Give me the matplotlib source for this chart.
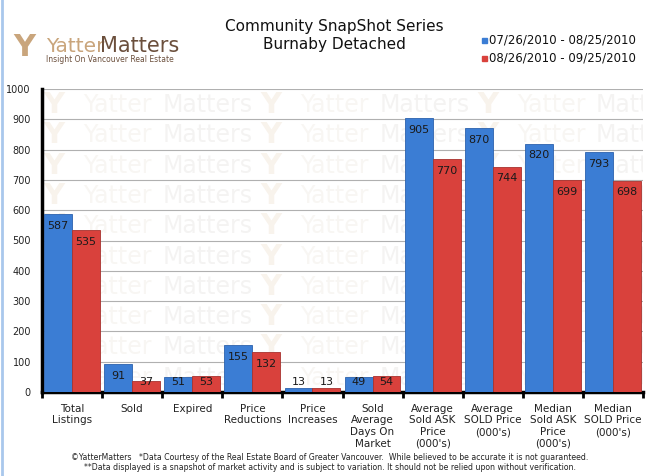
import matplotlib
matplotlib.use("Agg")
import matplotlib.pyplot as plt
import numpy as np

categories = ["Total\nListings", "Sold", "Expired", "Price\nReductions", "Price\nIncreases",
              "Sold\nAverage\nDays On\nMarket", "Average\nSold ASK\nPrice\n(000's)",
              "Average\nSOLD Price\n(000's)", "Median\nSold ASK\nPrice\n(000's)",
              "Median\nSOLD Price\n(000's)"]
period1 = [587, 91, 51, 155, 13, 49, 905, 870, 820, 793]
period2 = [535, 37, 53, 132, 13, 54, 770, 744, 699, 698]
label1 = "07/26/2010 - 08/25/2010"
label2 = "08/26/2010 - 09/25/2010"
y_ticks = [0, 100, 200, 300, 400, 500, 600, 700, 800, 900, 1000]

blue = "#3b7dd4"
red = "#d9413c"

fig = plt.figure(figsize=(6.55, 4.76), dpi=100)
ax = fig.add_axes([42 / 655, 1 - 392 / 476, 601 / 655, 303 / 476])

# faint watermark behind the bars
for row in range(10):
    for col in range(3):
        x0 = 0.002 + col * 0.361
        y0 = 0.947 - row * 0.1
        ax.text(x0, y0, "Y", transform=ax.transAxes, fontsize=21, color="#f8f3ec",
                fontweight="bold", va="center", ha="left", zorder=0, clip_on=True)
        ax.text(x0 + 0.067, y0, "Yatter", transform=ax.transAxes, fontsize=17,
                color="#f8f6f3", va="center", ha="left", zorder=0, clip_on=True)
        ax.text(x0 + 0.198, y0, "Matters", transform=ax.transAxes, fontsize=17,
                color="#f4f3f2", va="center", ha="left", zorder=0, clip_on=True)

x = np.arange(len(categories))
w = 0.465
b1 = ax.bar(x - w / 2, period1, w, color=blue, edgecolor="#2c62ad", linewidth=0.6, zorder=3)
b2 = ax.bar(x + w / 2, period2, w, color=red, edgecolor="#a8322e", linewidth=0.6, zorder=3)

# labels sit just inside the bar top, but never lower than just above the base
for bars, vals in ((b1, period1), (b2, period2)):
    for rect, v in zip(bars, vals):
        cx = rect.get_x() + rect.get_width() / 2
        ax.text(cx, max(v - 39, 33), str(v), ha="center", va="center",
                fontsize=8, color="#1a1a1a", zorder=4)

ax.set_xlim(-0.5, len(categories) - 0.5)
ax.set_ylim(0, 1000)
ax.set_yticks(y_ticks)
ax.set_yticklabels([str(t) for t in y_ticks], fontsize=7, color="#222222")
ax.yaxis.grid(True, color="#b0b0b0", linewidth=0.8, zorder=1)
ax.set_axisbelow(True)
ax.tick_params(axis="y", length=0, pad=8)

ax.set_xticks(x)
ax.set_xticklabels(categories, fontsize=7.5, color="#222222", linespacing=1.2, va="top")
ax.tick_params(axis="x", length=0, pad=8.5)
ax.set_xticks(np.arange(-0.5, len(categories)), minor=True)
ax.tick_params(axis="x", which="minor", length=4, width=2, color="black", direction="out")

for s in ("top", "right"):
    ax.spines[s].set_visible(False)
ax.spines["left"].set_linewidth(2.5)
ax.spines["bottom"].set_linewidth(2.5)

# header
fig.text(334 / 655, 1 - 27 / 476, "Community SnapShot Series", ha="center", va="center",
         fontsize=11, color="#111111")
fig.text(334 / 655, 1 - 45 / 476, "Burnaby Detached", ha="center", va="center",
         fontsize=11, color="#111111")

# logo
fig.text(13 / 655, 1 - 47 / 476, "Y", ha="left", va="center", fontsize=22,
         fontweight="bold", color="#c9a57c")
fig.text(46 / 655, 1 - 46 / 476, "Yatter", ha="left", va="center", fontsize=14.5,
         color="#c9a57c")
fig.text(100 / 655, 1 - 46 / 476, "Matters", ha="left", va="center", fontsize=15,
         color="#6b4f3c")
fig.text(46 / 655, 1 - 60 / 476, "Insight On Vancouver Real Estate", ha="left", va="center",
         fontsize=5.5, color="#6b4f3c")

# legend
fig.patches.append(plt.Rectangle((482 / 655, 1 - 43 / 476), 5 / 655, 5 / 476,
                                 transform=fig.transFigure, color=blue))
fig.patches.append(plt.Rectangle((482 / 655, 1 - 61 / 476), 5 / 655, 5 / 476,
                                 transform=fig.transFigure, color=red))
fig.text(489 / 655, 1 - 40 / 476, label1, ha="left", va="center", fontsize=8.5, color="#111111")
fig.text(489 / 655, 1 - 58 / 476, label2, ha="left", va="center", fontsize=8.5, color="#111111")

# footer
fig.text(330 / 655, 1 - 457 / 476,
         "\u00a9YatterMatters   *Data Courtesy of the Real Estate Board of Greater Vancouver.  "
         "While believed to be accurate it is not guaranteed.",
         ha="center", va="center", fontsize=5.6, color="#222222")
fig.text(330 / 655, 1 - 467 / 476,
         "**Data displayed is a snapshot of market activity and is subject to variation. "
         "It should not be relied upon without verification.",
         ha="center", va="center", fontsize=5.6, color="#222222")

# light blue frame on the left edge
fig.add_artist(plt.Line2D([1.5 / 655, 1.5 / 655], [0, 1], transform=fig.transFigure,
                          color="#a9c8ec", linewidth=2))

fig.savefig("out.png", dpi=100)
